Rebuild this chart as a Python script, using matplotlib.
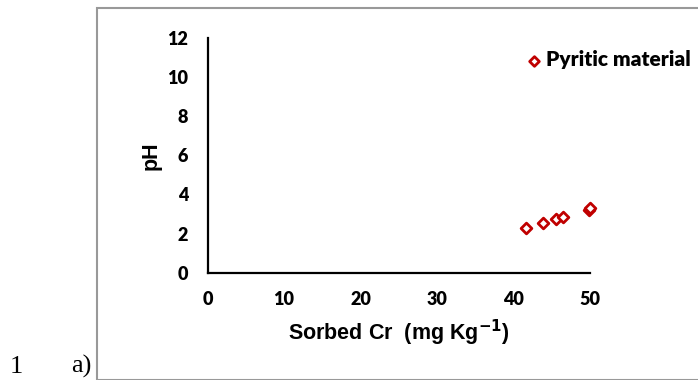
import matplotlib
matplotlib.use("Agg")
import matplotlib.pyplot as plt
from matplotlib.patches import Rectangle

# Sorbed chromium vs. equilibrium pH for the pyritic material
sorbed_cr = [41.6, 43.9, 45.6, 46.5, 49.9, 50.0]
ph_values = [2.27, 2.54, 2.73, 2.83, 3.22, 3.30]
series_name = "Pyritic material"

x_ticks = [0, 10, 20, 30, 40, 50]
y_ticks = [0, 2, 4, 6, 8, 10, 12]

W, H = 698, 380
fig = plt.figure(figsize=(W / 100, H / 100), dpi=100)

def fx(px):
    return px / W

def fy(py):
    return 1 - py / H

# axes box: x 0..50 -> px 207.5..590, y 0..12 -> px 272.7..38
x0, x1 = 207.5, 590.0
y0, y1 = 272.7, 38.0
ax = fig.add_axes([fx(x0), fy(y0), fx(x1) - fx(x0), fy(y1) - fy(y0)])

red = "#C00000"
ax.scatter(sorbed_cr, ph_values, marker="D", s=30, facecolors="white",
           edgecolors=red, linewidths=2.0, zorder=3, clip_on=False,
           label=series_name)

ax.set_xlim(0, 50)
ax.set_ylim(0, 12)
ax.set_xticks(x_ticks)
ax.set_yticks(y_ticks)
for s in ["top", "right"]:
    ax.spines[s].set_visible(False)
for s in ["left", "bottom"]:
    ax.spines[s].set_linewidth(1.6)
    ax.spines[s].set_color("black")
ax.tick_params(length=0)
ax.tick_params(axis="y", pad=14)
ax.tick_params(axis="x", pad=13)
for lab in ax.get_xticklabels() + ax.get_yticklabels():
    lab.set_fontfamily("Lato")
    lab.set_fontweight("heavy")
    lab.set_fontsize(13)

ax.set_xlabel("Sorbed Cr  (mg Kg$^{\\mathbf{-1}}$)", fontfamily="Liberation Sans",
              fontweight="bold", fontsize=15.5, labelpad=7)
ax.set_ylabel("pH", fontfamily="Liberation Sans", fontweight="bold",
              fontsize=15.5, labelpad=4)

ax.legend(loc="upper right", bbox_to_anchor=(fx(699), fy(42)),
          bbox_transform=fig.transFigure, frameon=False,
          prop={"family": "Lato", "weight": "heavy", "size": 15},
          handletextpad=0.15, borderaxespad=0, handlelength=0.8,
          markerscale=0.9)

# grey frame around the chart
fig.patches.append(Rectangle((fx(97), fy(379.5)), fx(700) - fx(97),
                             fy(7.5) - fy(379.5), transform=fig.transFigure,
                             fill=False, edgecolor="#999999", linewidth=1.5))

fig.text(fx(10), fy(373), "1", fontfamily="Liberation Serif", fontsize=19,
         va="baseline", ha="left")
fig.text(fx(71), fy(373), "a)", fontfamily="Liberation Serif", fontsize=19,
         va="baseline", ha="left")

fig.savefig("out.png", dpi=100)
